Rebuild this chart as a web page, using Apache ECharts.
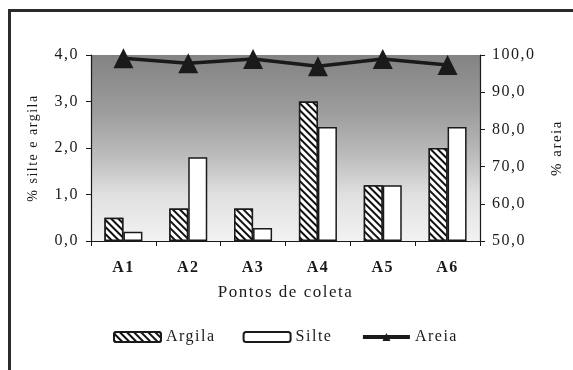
<!DOCTYPE html>
<html>
<head>
<meta charset="utf-8">
<script src="https://cdn.jsdelivr.net/npm/echarts@6/dist/echarts.min.js"></script>
<style>
  html, body { margin: 0; padding: 0; background: #fff; }
  #chart { width: 573px; height: 370px; }
</style>
</head>
<body>
<div id="chart"></div>
<script>
const categories = ["A1", "A2", "A3", "A4", "A5", "A6"]
const argila = [0.5, 0.7, 0.7, 3.0, 1.2, 2.0]
const silte = [0.2, 1.8, 0.28, 2.45, 1.2, 2.45]
const areia = [99.1, 97.8, 98.9, 97.0, 98.9, 97.3]

const ink = "#1a1a1a"
const serif = "Liberation Serif"

// comma as decimal separator, one decimal place
const fmt = (v) => v.toFixed(1).replace(".", ",")

// the scanned figure uses spaced-out type; echarts has no letter-spacing option,
// so set it on the canvas context right before any text is painted
const fillText = CanvasRenderingContext2D.prototype.fillText
CanvasRenderingContext2D.prototype.fillText = function (...args) {
  this.letterSpacing = "1.5px"
  return fillText.apply(this, args)
}

const chart = echarts.init(document.getElementById("chart"), null, { renderer: "canvas" })
chart.setOption({
  animation: false,
  backgroundColor: "#fff",
  textStyle: { fontFamily: serif, color: ink },
  graphic: [
    {
      type: "rect",
      shape: { x: 9.5, y: 10.5, width: 700, height: 500 },
      style: { fill: "none", stroke: "#2b2b2b", lineWidth: 3 },
      silent: true,
    },
  ],
  grid: {
    left: 91, right: 93, top: 55, bottom: 129,
    show: true,
    borderWidth: 0,
    backgroundColor: new echarts.graphic.LinearGradient(0, 0, 0, 1, [
      { offset: 0, color: "#838383" },
      { offset: 0.3, color: "#9c9c9c" },
      { offset: 0.55, color: "#bdbdbd" },
      { offset: 0.75, color: "#e0e0e0" },
      { offset: 1, color: "#f2f2f2" },
    ]),
  },
  legend: {
    left: 108,
    top: 324,
    itemWidth: 47,
    itemHeight: 10,
    itemGap: 36,
    textStyle: { fontFamily: serif, fontSize: 16, color: ink },
    data: [
      { name: "Argila" },
      { name: "Silte" },
      { name: "Areia", lineStyle: { width: 4 } },
    ],
  },
  xAxis: {
    type: "category",
    data: categories,
    axisLine: { lineStyle: { color: ink, width: 1.2 } },
    axisTick: { show: true, length: 5, lineStyle: { color: ink } },
    axisLabel: { fontFamily: serif, fontSize: 16, fontWeight: "bold", color: ink, margin: 19 },
    name: "Pontos de coleta",
    nameLocation: "middle",
    nameGap: 43,
    nameTextStyle: { fontFamily: serif, fontSize: 17, color: ink },
  },
  yAxis: [
    {
      type: "value",
      min: 0, max: 4, interval: 1,
      axisLine: { show: true, lineStyle: { color: ink, width: 1.2 } },
      axisTick: { show: true, length: 5, lineStyle: { color: ink } },
      splitLine: { show: false },
      axisLabel: { fontFamily: serif, fontSize: 16, color: ink, margin: 12, formatter: fmt },
      name: "% silte e argila",
      nameLocation: "middle",
      nameRotate: 90,
      nameGap: 51,
      nameTextStyle: { fontFamily: serif, fontSize: 14, color: ink },
    },
    {
      type: "value",
      position: "right",
      min: 50, max: 100, interval: 10,
      axisLine: { show: true, lineStyle: { color: ink, width: 1.2 } },
      axisTick: { show: true, length: 5, lineStyle: { color: ink } },
      splitLine: { show: false },
      axisLabel: { fontFamily: serif, fontSize: 16, color: ink, margin: 12, formatter: fmt },
      name: "% areia",
      nameLocation: "middle",
      nameRotate: 90,
      nameGap: 70,
      nameTextStyle: { fontFamily: serif, fontSize: 15, color: ink },
    },
  ],
  series: [
    {
      name: "Argila",
      type: "bar",
      data: argila,
      barWidth: 19,
      barGap: "0%",
      itemStyle: {
        color: "#fff",
        borderColor: ink,
        borderWidth: 1.5,
        decal: {
          symbol: "rect",
          symbolSize: 1,
          dashArrayX: [1, 0],
          dashArrayY: [2, 2.5],
          rotation: Math.PI / 4,
          color: "#111",
          backgroundColor: "#fff",
        },
      },
    },
    {
      name: "Silte",
      type: "bar",
      data: silte,
      barWidth: 19,
      itemStyle: { color: "#fff", borderColor: ink, borderWidth: 1.5 },
    },
    {
      name: "Areia",
      type: "line",
      yAxisIndex: 1,
      data: areia,
      symbol: "triangle",
      symbolSize: [20, 20],
      lineStyle: { color: ink, width: 3.5 },
      itemStyle: { color: ink },
    },
  ],
})
</script>
</body>
</html>
